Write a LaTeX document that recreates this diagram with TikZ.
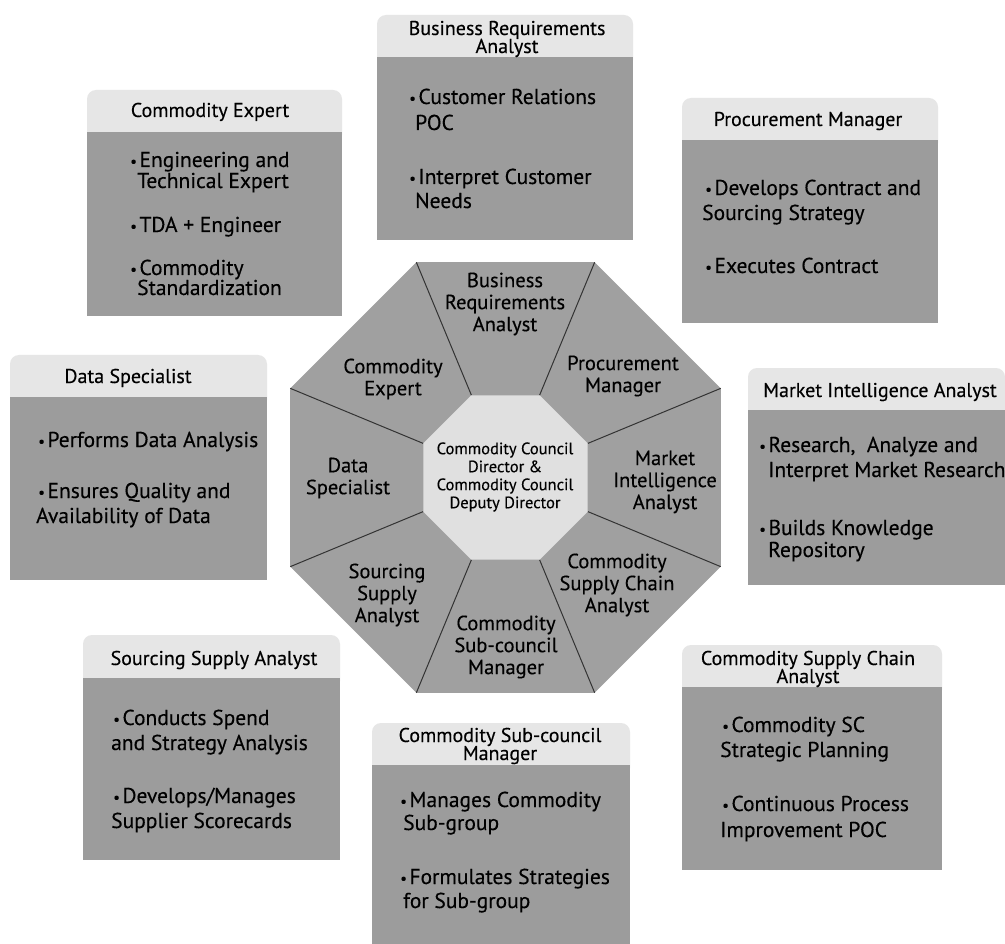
\documentclass[tikz,border=0pt]{standalone}
\usepackage{fontspec}
\setmainfont{PT Sans}[FakeBold=0.3]
\usetikzlibrary{shapes.geometric}

\definecolor{cardgray}{HTML}{9C9C9C}
\definecolor{headgray}{HTML}{E6E6E6}
\definecolor{ringgray}{HTML}{A0A0A0}
\definecolor{hubgray}{HTML}{E0E0E0}
\definecolor{spokegray}{HTML}{333333}

% small bullet in front of each item
\newcommand\bul{\raisebox{0.5pt}{\fontsize{15}{15}\selectfont •}\hspace{2.5pt}}

% a role card: light title band with rounded top, grey body below
% #1 name, #2 left, #3 right, #4 top, #5 bottom of title band, #6 bottom
\newcommand\rolecard[6]{%
  \node[cardhead, minimum width=#3-#2, minimum height=#5-#4+12, anchor=north west] (#1-head) at (#2,#4) {};
  \node[cardbody, minimum width=#3-#2, minimum height=#6-#5, anchor=north west] (#1-body) at (#2,#5) {};
}
% lines of a card body: x/baseline/text
\newcommand\cardtext[2]{%
  \foreach \xx/\yy/\txt [count=\i] in {#2} {\node[bodytext] (#1-line\i) at (\xx,\yy) {\txt};}
}

\tikzset{
  cardhead/.style={fill=headgray, rounded corners=9pt, inner sep=0pt, outer sep=0pt},
  cardbody/.style={fill=cardgray, inner sep=0pt, outer sep=0pt},
  headtext/.style={font=\fontsize{20}{20}\selectfont, inner sep=0pt, anchor=base},
  bodytext/.style={font=\fontsize{21.5}{25}\selectfont, inner sep=0pt, anchor=base west},
  octlabel/.style={font=\fontsize{20.5}{22}\selectfont, align=center, inner sep=0pt},
  hubtext/.style={font=\fontsize{16.5}{18}\selectfont, align=center, inner sep=0pt},
  octagon/.style={regular polygon, regular polygon sides=8, inner sep=0pt, outer sep=0pt},
  spoke/.style={draw=spokegray, line width=1pt},
}

\begin{document}
\begin{tikzpicture}[x=1pt, y=-1pt]
\useasboundingbox[fill=white] (0,0) rectangle (1005,944);

% ---------- central octagon ----------
\node[octagon, fill=ringgray, minimum size=466] (ring) at (505.5,477.5) {};
\node[octagon, minimum size=178] (hubshape) at (505.5,477.5) {};
\foreach \k in {1,...,8} {\draw[spoke] (ring.corner \k) -- (hubshape.corner \k);}
\node[octagon, fill=hubgray, minimum size=178] (hub) at (505.5,477.5) {};

\node[hubtext] (hub-text) at (505,477) {Commodity Council\\Director \&\\Commodity Council\\Deputy Director};

\node[octlabel] (o-bra)  at (505,304) {Business\\Requirements\\Analyst};
\node[octlabel] (o-pm)   at (623,376) {Procurement\\Manager};
\node[octlabel] (o-mia)  at (665,482) {Market\\Intelligence\\Analyst};
\node[octlabel] (o-csca) at (617,585) {Commodity\\Supply Chain\\Analyst};
\node[octlabel] (o-scm)  at (506,647) {Commodity\\Sub-council\\Manager};
\node[octlabel] (o-ssa)  at (387,595) {Sourcing\\Supply\\Analyst};
\node[octlabel] (o-ds)   at (348,478) {Data\\Specialist};
\node[octlabel] (o-ce)   at (393,379) {Commodity\\Expert};

% ---------- role cards ----------
% Commodity Expert
\rolecard{ce}{87}{342}{90}{132}{316}
\node[headtext] (ce-title) at (210,117) {Commodity Expert};
\cardtext{ce}{130/167/{\bul Engineering and}, 137/188/{Technical Expert}, 130/232/{\bul TDA + Engineer}, 130/275/{\bul Commodity}, 137/295/{Standardization}}

% Business Requirements Analyst
\rolecard{bra}{377}{633}{15}{57}{240}
\node[headtext] (bra-title1) at (507,35) {Business Requirements};
\node[headtext] (bra-title2) at (507,53) {Analyst};
\cardtext{bra}{409/104/{\bul Customer Relations}, 415/130/{POC}, 409/184/{\bul Interpret Customer}, 415/208/{Needs}}

% Procurement Manager
\rolecard{pm}{682}{938}{98}{140}{323}
\node[headtext] (pm-title) at (808,126) {Procurement Manager};
\cardtext{pm}{705/195/{\bul Develops Contract and}, 702/220/{Sourcing Strategy}, 705/273/{\bul Executes Contract}}

% Data Specialist
\rolecard{ds}{10}{267}{355}{397}{580}
\node[headtext] (ds-title) at (128,383) {Data Specialist};
\cardtext{ds}{38/447/{\bul Performs Data Analysis}, 38/498/{\bul Ensures Quality and}, 36/523/{Availability of Data}}

% Market Intelligence Analyst
\rolecard{mia}{748}{1005}{368}{410}{585}
\node[headtext] (mia-title) at (880,397) {Market Intelligence Analyst};
\cardtext{mia}{759/452/{\bul Research,\ \ Analyze and}, 768/477/{Interpret Market Research}, 759/535/{\bul Builds Knowledge}, 768/557/{Repository}}

% Sourcing Supply Analyst
\rolecard{ssa}{83}{340}{635}{678}{860}
\node[headtext] (ssa-title) at (214,665) {Sourcing Supply Analyst};
\cardtext{ssa}{113/725/{\bul Conducts Spend}, 111/750/{and Strategy Analysis}, 113/803/{\bul Develops/Manages}, 111/828/{Supplier Scorecards}}

% Commodity Sub-council Manager
\rolecard{scm}{372}{630}{723}{765}{944}
\node[headtext] (scm-title1) at (500,742) {Commodity Sub-council};
\node[headtext] (scm-title2) at (500,760) {Manager};
\cardtext{scm}{400/807/{\bul Manages Commodity}, 403/830/{Sub-group}, 400/884/{\bul Formulates Strategies}, 403/908/{for Sub-group}}

% Commodity Supply Chain Analyst
\rolecard{csca}{682}{942}{645}{687}{870}
\node[headtext] (csca-title1) at (808,665) {Commodity Supply Chain};
\node[headtext] (csca-title2) at (808,683) {Analyst};
\cardtext{csca}{722/732/{\bul Commodity SC}, 720/757/{Strategic Planning}, 722/811/{\bul Continuous Process}, 720/837/{Improvement POC}}

\end{tikzpicture}
\end{document}
